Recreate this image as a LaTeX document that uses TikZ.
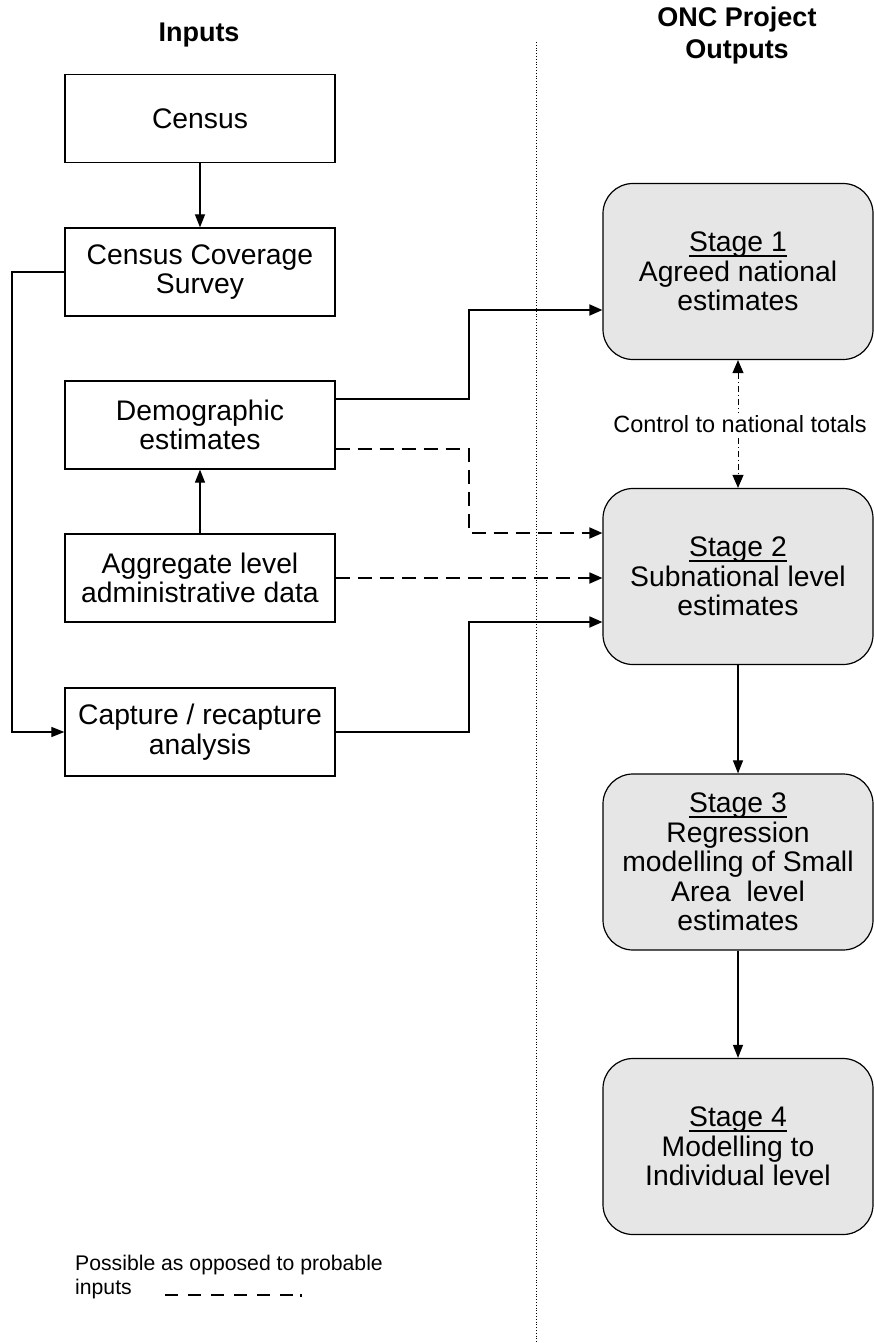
\documentclass[tikz,border=0pt]{standalone}
\usepackage{fontspec}
\setmainfont{Liberation Sans}
\usetikzlibrary{arrows.meta}
\definecolor{stagegray}{HTML}{E6E6E6}
\newcommand\mainfs{\fontsize{28.3}{29.5}\selectfont}
\newcommand\headfs{\fontsize{27}{32}\selectfont\bfseries}
\newcommand\smallfs{\fontsize{23.5}{25}\selectfont}
\newcommand\legfs{\fontsize{21.2}{23.5}\selectfont}
\newcommand\stul[1]{\leavevmode\setbox0\hbox{#1}\rlap{\rule[-5.2pt]{\wd0}{1.5pt}}\box0}
\begin{document}
\begin{tikzpicture}[x=1pt,y=-1pt,
  inbox/.style={draw, line width=1.2pt, minimum width=270pt, minimum height=88pt, align=center, font=\mainfs, inner sep=0pt},
  stagebox/.style={draw, fill=stagegray, rounded corners=30pt, line width=1.2pt, minimum width=270pt, minimum height=176pt, align=center, font=\mainfs, inner sep=0pt},
  head/.style={align=center, font=\headfs},
  thinarrow/.style={line width=1.1pt, -{Triangle[length=13pt,width=10pt]}},
  thickarrow/.style={line width=1.8pt, -{Triangle[length=13pt,width=11pt]}},
  dasharrow/.style={line width=1.8pt, dash pattern=on 14pt off 8pt, -{Triangle[length=13pt,width=11pt]}},
  ctrlarrow/.style={line width=1pt, dash pattern=on 6pt off 3pt on 1pt off 3pt, {Triangle[length=13pt,width=11pt]}-{Triangle[length=13pt,width=11pt]}}
]
\useasboundingbox (0,0) rectangle (874,1343);

% headers
\node[head] (hin) at (199,35) {Inputs};
\node[head] (hout) at (737,36) {ONC Project\\Outputs};

% divider
\coordinate (dtop) at (536,42);
\coordinate (dbot) at (536,1343);
\draw[line width=0.8pt, dotted] (dtop) -- (dbot);

% input boxes
\node[inbox] (census) at (200,118.5) {Census};
\node[inbox] (ccs) at (200,272) {Census Coverage\\Survey};
\node[inbox] (dem) at (200,425) {Demographic\\estimates};
\node[inbox] (agg) at (200,578) {Aggregate level\\administrative data};
\node[inbox] (cap) at (200,732) {Capture / recapture\\analysis};

% stage boxes
\node[stagebox] (s1) at (738,271.5) {\stul{Stage 1}\\Agreed national\\estimates};
\node[stagebox] (s2) at (738,576.5) {\stul{Stage 2}\\Subnational level\\estimates};
\node[stagebox] (s3) at (738,862) {\stul{Stage 3}\\Regression\\modelling of Small\\Area\ \ level\\estimates};
\node[stagebox] (s4) at (738,1146.5) {\stul{Stage 4}\\Modelling to\\Individual level};

% left column arrows
\draw[thinarrow] (census) -- (ccs);
\draw[thinarrow] (agg) -- (dem);
\coordinate (lx) at (12,0);
\draw[thinarrow] (ccs.west) -- (ccs.west -| lx) -- (cap.west -| lx) -- (cap.west);

% connectors to stages
\coordinate (jx) at (469,0);
\coordinate (a1) at ([yshift=26pt]dem.east);
\coordinate (b1) at ([yshift=-38.5pt]s1.west);
\draw[thickarrow] (a1) -- (a1 -| jx) -- (b1 -| jx) -- (b1);

\coordinate (a2) at ([yshift=-24pt]dem.east);
\coordinate (b2) at ([yshift=43.5pt]s2.west);
\draw[dasharrow] (a2) -- (a2 -| jx) -- (b2 -| jx) -- (b2);

\coordinate (a3) at (agg.east);
\draw[dasharrow] (a3) -- (a3 -| s2.west);

\coordinate (a4) at (cap.east);
\coordinate (b4) at ([yshift=-45.5pt]s2.west);
\draw[thickarrow] (a4) -- (a4 -| jx) -- (b4 -| jx) -- (b4);

% stage chain
\draw[ctrlarrow] (s1.south) -- node[fill=white, font=\smallfs, inner sep=2pt, xshift=2pt] (ctl) {Control to national totals} (s2.north);
\draw[thinarrow] (s2) -- (s3);
\draw[thinarrow] (s3) -- (s4);

% legend
\node[anchor=north west, align=left, font=\legfs, inner sep=0pt] (leg) at (75,1255) {Possible as opposed to probable\\inputs};
\coordinate (l1) at (165,1295);
\coordinate (l2) at (293,1295);
\draw[line width=1.6pt, dash pattern=on 13pt off 10pt] (l1) -- (l2);
\fill (300,1293.5) rectangle (302,1296.5);
\end{tikzpicture}
\end{document}
